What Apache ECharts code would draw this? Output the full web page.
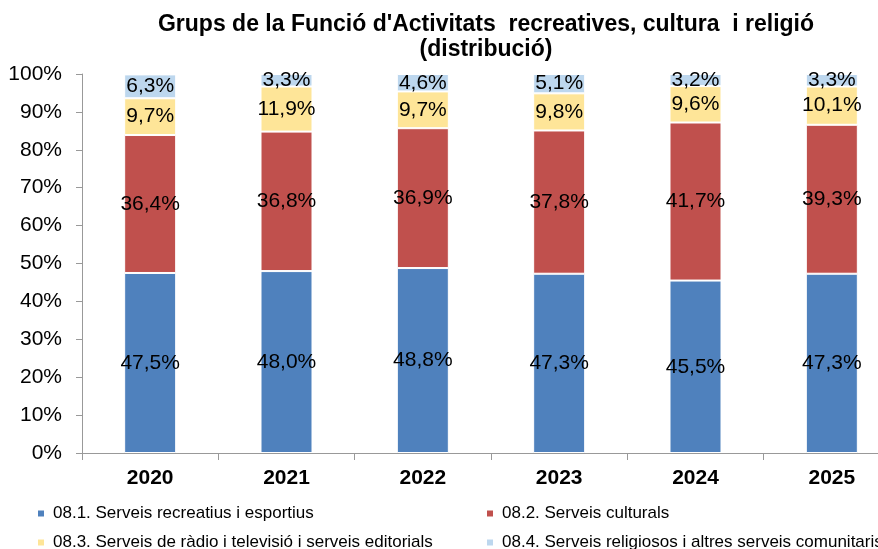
<!DOCTYPE html>
<html>
<head>
<meta charset="utf-8">
<script src="https://cdn.jsdelivr.net/npm/echarts@6/dist/echarts.min.js"></script>
<style>
  html, body { margin: 0; padding: 0; overflow: hidden; background: #fff; }
  #main { width: 900px; height: 549px; }
</style>
</head>
<body>
<div id="main"></div>
<script>
// anys
const years = ['2020', '2021', '2022', '2023', '2024', '2025']
// percentatges per grup
const recreatius = [47.5, 48.0, 48.8, 47.3, 45.5, 47.3]
const culturals = [36.4, 36.8, 36.9, 37.8, 41.7, 39.3]
const radioTv = [9.7, 11.9, 9.7, 9.8, 9.6, 10.1]
const religiosos = [6.3, 3.3, 4.6, 5.1, 3.2, 3.3]
const yTicks = [0, 10, 20, 30, 40, 50, 60, 70, 80, 90, 100]

const names = [
  '08.1. Serveis recreatius i esportius',
  '08.2. Serveis culturals',
  '08.3. Serveis de ràdio i televisió i serveis editorials',
  '08.4. Serveis religiosos i altres serveis comunitaris'
]
const colors = ['#4F81BD', '#C0504D', '#FEE598', '#BDD7EE']
const font = "'Liberation Sans', Arial, sans-serif"

const chart = echarts.init(document.getElementById('main'))

function bar(name, data, color) {
  return {
    name: name,
    type: 'bar',
    stack: 'total',
    barWidth: 52,
    data: data,
    itemStyle: { color: color, borderColor: '#fff', borderWidth: 1 },
    label: {
      show: true,
      position: 'inside',
      color: '#000',
      fontFamily: font,
      fontSize: 21,
      formatter: p => p.value.toFixed(1).replace('.', ',') + '%'
    }
  }
}

function legendAt(name, left, top) {
  return {
    data: [name],
    left: left,
    top: top,
    icon: 'rect',
    itemWidth: 8,
    itemHeight: 8,
    itemGap: 6,
    textStyle: { fontFamily: font, fontSize: 17, color: '#000', padding: [0, 0, 0, 3] }
  }
}

chart.setOption({
  animation: false,
  title: {
    text: "Grups de la Funció d'Activitats  recreatives, cultura  i religió\n(distribució)",
    left: 481,
    top: 7,
    textAlign: 'center',
    textStyle: { fontFamily: font, fontSize: 23, fontWeight: 'bold', color: '#000', lineHeight: 25 }
  },
  legend: [
    legendAt(names[0], 31, 500),
    legendAt(names[1], 480, 500),
    legendAt(names[2], 31, 529),
    legendAt(names[3], 480, 529)
  ],
  grid: { left: 82, right: 0, top: 74, bottom: 96 },
  xAxis: {
    type: 'category',
    data: years,
    axisLine: { lineStyle: { color: '#999' } },
    axisTick: { show: true, length: 7, lineStyle: { color: '#999' } },
    axisLabel: { color: '#000', fontFamily: font, fontSize: 21, fontWeight: 'bold', margin: 15 }
  },
  yAxis: {
    type: 'value',
    min: yTicks[0],
    max: yTicks[yTicks.length - 1],
    interval: 10,
    splitLine: { show: false },
    axisLine: { show: true, lineStyle: { color: '#999' } },
    axisTick: { show: true, length: 6, lineStyle: { color: '#999' } },
    axisLabel: { color: '#000', fontFamily: font, fontSize: 21, margin: 20, formatter: '{value}%' }
  },
  series: [
    bar(names[0], recreatius, colors[0]),
    bar(names[1], culturals, colors[1]),
    bar(names[2], radioTv, colors[2]),
    bar(names[3], religiosos, colors[3])
  ]
})
</script>
</body>
</html>
